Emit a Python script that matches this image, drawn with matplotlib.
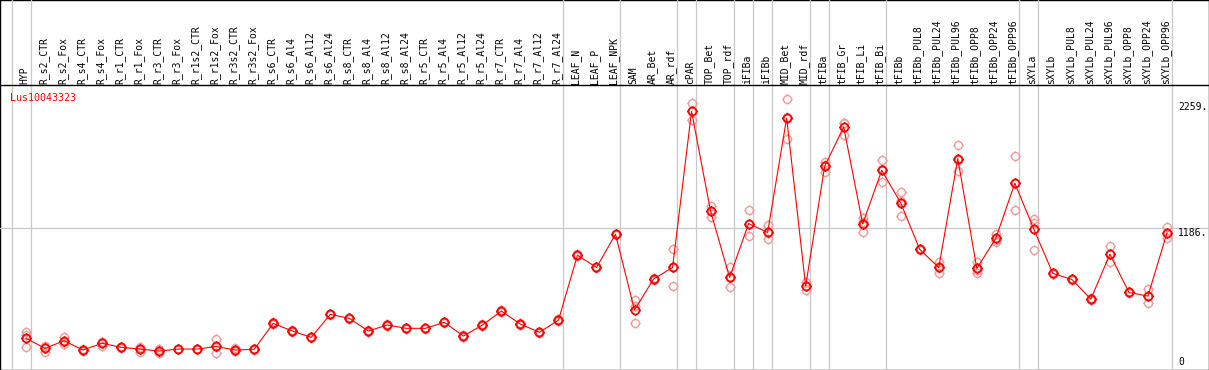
import matplotlib
matplotlib.use("Agg")
import matplotlib.pyplot as plt
import matplotlib.path as mpath
import matplotlib.transforms as mtransforms
import numpy as np

gene = "Lus10043323"

samples = [
    "HYP", "R_s2_CTR", "R_s2_Fox", "R_s4_CTR", "R_s4_Fox", "R_r1_CTR", "R_r1_Fox",
    "R_r3_CTR", "R_r3_Fox", "R_r1s2_CTR", "R_r1s2_Fox", "R_r3s2_CTR", "R_r3s2_Fox",
    "R_s6_CTR", "R_s6_Al4", "R_s6_Al12", "R_s6_Al24", "R_s8_CTR", "R_s8_Al4",
    "R_s8_Al12", "R_s8_Al24", "R_r5_CTR", "R_r5_Al4", "R_r5_Al12", "R_r5_Al24",
    "R_r7_CTR", "R_r7_Al4", "R_r7_Al12", "R_r7_Al24", "LEAF_N", "LEAF_P", "LEAF_NPK",
    "SAM", "AR_Bet", "AR_rdf", "cPAR", "TOP_Bet", "TOP_rdf", "iFIBa", "iFIBb",
    "MID_Bet", "MID_rdf", "tFIBa", "tFIB_Gr", "tFIB_Li", "tFIB_Bi", "tFIBb",
    "tFIBb_PUL8", "tFIBb_PUL24", "tFIBb_PUL96", "tFIBb_OPP8", "tFIBb_OPP24",
    "tFIBb_OPP96", "sXYLa", "sXYLb", "sXYLb_PUL8", "sXYLb_PUL24", "sXYLb_PUL96",
    "sXYLb_OPP8", "sXYLb_OPP24", "sXYLb_OPP96",
]

# mean expression per sample
means = [
    245, 159, 224, 145, 202, 168, 153, 136, 153, 153, 175, 145, 151,
    372, 307, 253, 449, 415, 307, 358, 330, 330, 381, 264, 358, 477, 366, 296, 400,
    954, 849, 1133, 486, 750, 849, 2181, 1329, 764, 1224, 1148, 2124, 690,
    1713, 2047, 1221, 1678, 1400, 1003, 849, 1778, 841, 1097, 1568,
    1176, 798, 747, 579, 963, 636, 605, 1144,
]

# individual replicates
rep_a = [
    301, 179, 258, 150, 216, 170, 173, 151, 155, 155, 239, 159, 153,
    380, 312, 258, 455, 420, 312, 364, 336, 335, 387, 270, 364, 483, 372, 301, 406,
    960, 855, 1139, 571, 757, 1003, 2252, 1372, 849, 1338, 1210, 2289, 727,
    1749, 2081, 1275, 1764, 1494, 1010, 897, 1891, 897, 1139, 1798,
    1267, 805, 752, 585, 1031, 640, 662, 1195,
]
rep_b = [
    273, 125, 216, 145, 179, 168, 130, 117, 153, 153, 117, 140, 151,
    366, 302, 248, 444, 410, 302, 352, 325, 326, 376, 259, 352, 472, 361, 292, 395,
    948, 843, 1128, 372, 743, 693, 2104, 1281, 684, 1116, 1088, 1949, 656,
    1664, 1977, 1148, 1579, 1289, 995, 803, 1673, 798, 1068, 1338,
    1229, 795, 745, 575, 897, 630, 548, 1097,
]
rep_c = [
    173, 173, 198, 140, 211, 166, 156, 140, 151, 151, 170, 136, 149,
    370, 307, 253, 448, 415, 307, 358, 330, 330, 381, 264, 358, 477, 366, 296, 400,
    954, 849, 1133, 520, 750, 851, 2187, 1334, 759, 1218, 1146, 2134, 687,
    1726, 2083, 1240, 1691, 1417, 1004, 847, 1770, 828, 1084, 1568,
    997, 794, 744, 577, 961, 638, 605, 1140,
]

# group separators sit just right of these sample indices
group_ends = [-1, 0, 28, 31, 34, 35, 37, 38, 39, 41, 42, 45, 52, 53, 60]
y_ticks = [0, 1186, 2259]

W, H = 1209, 370
fig = plt.figure(figsize=(W / 100, H / 100), dpi=100)

# outer frame
frame = fig.add_axes([0, 0, 1, 1])
frame.set_xticks([])
frame.set_yticks([])
frame.patch.set_facecolor("white")
for s in frame.spines.values():
    s.set_color("black")
    s.set_linewidth(1.0)

ax = fig.add_axes([0, 1 / H, 1, 284 / H])
ax.patch.set_alpha(0)
px_per_x = 19.0
x0 = 26.0
ax.set_xlim((0 - x0) / px_per_x, (W - 1 - x0) / px_per_x)
scale = 1186 / (367 - 228)  # value per pixel
ax.set_ylim((367 - 369) * scale, (367 - 85) * scale)
ax.set_xticks([])
ax.set_yticks([])
for name in ["left", "right"]:
    ax.spines[name].set_visible(False)
ax.spines["top"].set_linewidth(1.0)
ax.spines["bottom"].set_visible(False)

grid_c = "#c8c8c8"
for g in group_ends:
    ax.axvline(g + 0.24, ymin=0, ymax=1.4, color=grid_c, lw=0.9, clip_on=False, zorder=0)
ax.axhline(1186, color=grid_c, lw=0.9, zorder=0)

# circle marker with small ticks
circ = mpath.Path.unit_circle()
tv = np.array([[0, 1], [0, 1.3], [0, -1], [0, -1.3], [1, 0], [1.3, 0], [-1, 0], [-1.3, 0]])
tc = [mpath.Path.MOVETO, mpath.Path.LINETO] * 4
marker = mpath.Path(np.vstack([circ.vertices, tv]), np.concatenate([circ.codes, tc]))

xs = np.arange(len(samples))
for reps in (rep_a, rep_b, rep_c):
    ax.plot(xs, reps, linestyle="none", marker=marker, ms=7.4, mfc="none",
            mec="#f09a9a", mew=1.0, zorder=2)
ax.plot(xs, means, color="red", lw=0.8, zorder=3)
ax.plot(xs, means, linestyle="none", marker=marker, ms=7.4, mfc="none",
        mec="red", mew=1.3, zorder=4)

# sample labels above the plot
lab_tr = mtransforms.blended_transform_factory(ax.transData, fig.transFigure)
for i, s in enumerate(samples):
    ax.text(i - 0.08, 1 - 84 / H, s, transform=lab_tr, rotation=90, ha="center",
            va="bottom", fontsize=7, family="DejaVu Sans Mono", clip_on=False)

ax.text(10 / W, 1 - 98 / H, gene, transform=fig.transFigure, color="red",
        fontsize=7.2, family="DejaVu Sans Mono", va="center", ha="left")

# value labels on the right
tick_tr = mtransforms.blended_transform_factory(fig.transFigure, ax.transData)
for v in y_ticks:
    txt = "0" if v == 0 else f"{v}."
    ax.text(1178 / W, v, txt, transform=tick_tr, fontsize=7,
            family="DejaVu Sans Mono", ha="left",
            va="bottom" if v == 0 else "top", clip_on=False)

fig.savefig("out.png", dpi=100)
